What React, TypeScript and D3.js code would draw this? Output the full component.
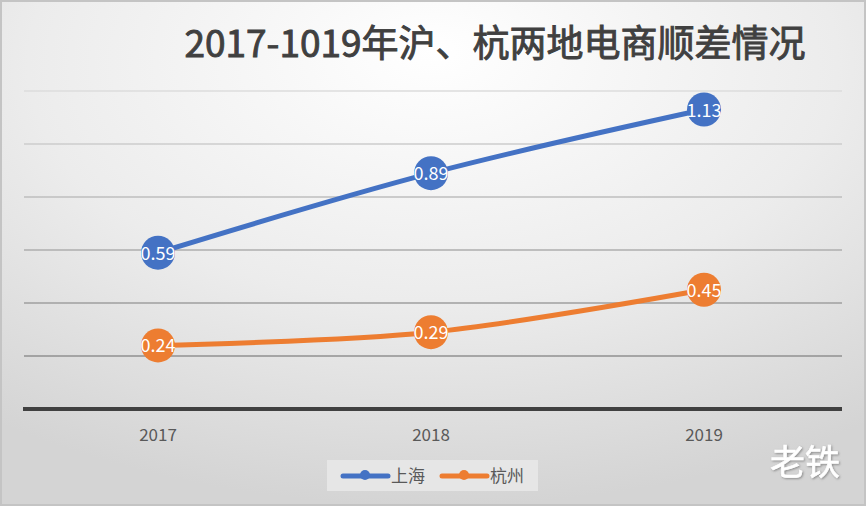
import React from "react";
import * as d3 from "d3";

const years = ["2017", "2018", "2019"];
const shanghai = [0.59, 0.89, 1.13];
const hangzhou = [0.24, 0.29, 0.45];
const yTicks = [0, 0.2, 0.4, 0.6, 0.8, 1.0, 1.2];
const seriesNames = ["上海", "杭州"];
const title = "2017-1019年沪、杭两地电商顺差情况";

const W = 866;
const H = 506;
const BLUE = "#4472C4";
const ORANGE = "#ED7D31";

export default function App() {
  const x = d3.scalePoint<string>().domain(years).range([158, 704]);
  const y = d3.scaleLinear().domain([0, 1.2]).range([409, 91]);
  const line = d3
    .line<number>()
    .x((_, i) => x(years[i]) as number)
    .y((d) => y(d))
    .curve(d3.curveCatmullRom.alpha(0));
  const series = [
    { name: seriesNames[0], data: shanghai, color: BLUE },
    { name: seriesNames[1], data: hangzhou, color: ORANGE },
  ];
  const font = "'Noto Sans CJK SC', 'Noto Sans', sans-serif";
  return (
    <div style={{ position: "absolute", left: 0, top: 0 }}>
      <svg width={W} height={H} style={{ display: "block" }}>
        <defs>
          <radialGradient id="bg" cx="0.5" cy="0.15" r="0.85" fx="0.5" fy="0.1">
            <stop offset="0" stopColor="#ffffff" />
            <stop offset="0.55" stopColor="#ececec" />
            <stop offset="1" stopColor="#d4d4d4" />
          </radialGradient>
          <filter id="sh" x="-20%" y="-20%" width="140%" height="140%">
            <feDropShadow dx="1" dy="1" stdDeviation="0.8" floodColor="#777" floodOpacity="0.8" />
          </filter>
        </defs>
        <rect x={0} y={0} width={W} height={H} fill="url(#bg)" />
        <rect x={1} y={1} width={W - 2} height={H - 2} fill="none" stroke="#c4c4c4" strokeWidth={2} />
        <text
          x={495}
          y={57}
          textAnchor="middle"
          fontFamily={font}
          fontWeight="normal"
          fontSize={37}
          fill="#404040"
          stroke="#404040"
          strokeWidth={0.9}
        >
          {title}
        </text>
        {yTicks
          .filter((t) => t > 0)
          .map((t) => (
            <line
              key={t}
              x1={24}
              x2={842}
              y1={y(t)}
              y2={y(t)}
              stroke={d3.interpolateRgb("#909090", "#dcdcdc")((t - 0.2) / 1.0)}
              strokeWidth={1.5}
            />
          ))}
        <line x1={23} x2={842} y1={y(0)} y2={y(0)} stroke="#404040" strokeWidth={4} />
        {years.map((yr) => (
          <text
            key={yr}
            x={x(yr)}
            y={441}
            textAnchor="middle"
            fontFamily={font}
            fontSize={17}
            fill="#595959"
          >
            {yr}
          </text>
        ))}
        {series.map((s) => (
          <g key={s.name}>
            <path d={line(s.data) || ""} fill="none" stroke={s.color} strokeWidth={5} strokeLinecap="round" />
            {s.data.map((v, i) => (
              <g key={i}>
                <circle cx={x(years[i])} cy={y(v)} r={17} fill={s.color} />
                <text
                  x={x(years[i])}
                  y={y(v) + 7}
                  textAnchor="middle"
                  fontFamily={font}
                  fontSize={18}
                  fill="#ffffff"
                >
                  {v.toFixed(2)}
                </text>
              </g>
            ))}
          </g>
        ))}
        <rect x={327} y={460} width={211} height={31} fill="#e6e6e6" />
        {series.map((s, i) => {
          const lx = 343 + i * 99;
          return (
            <g key={s.name}>
              <line x1={lx} x2={lx + 45} y1={476} y2={476} stroke={s.color} strokeWidth={5} strokeLinecap="round" />
              <circle cx={lx + 22} cy={475} r={5} fill={s.color} />
              <text x={lx + 48} y={482} fontFamily={font} fontSize={17} fill="#595959">
                {s.name}
              </text>
            </g>
          );
        })}
        <text
          x={805}
          y={475}
          textAnchor="middle"
          fontFamily={font}
          fontSize={35}
          fill="#ffffff"
          stroke="#ffffff"
          strokeWidth={0.6}
          filter="url(#sh)"
        >
          老铁
        </text>
      </svg>
    </div>
  );
}
